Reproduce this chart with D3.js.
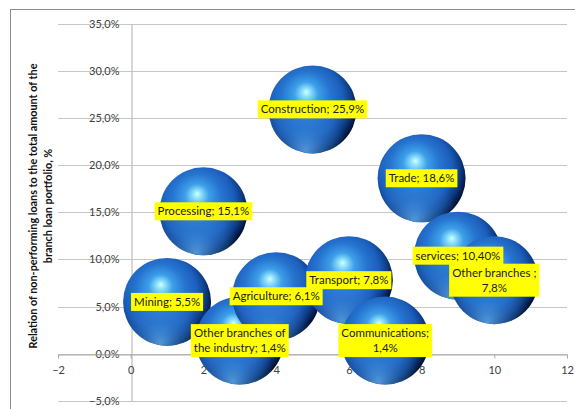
<!DOCTYPE html>
<html>
<head>
<meta charset="utf-8">
<script src="https://cdn.jsdelivr.net/npm/d3@7"></script>
<style>
  html, body { margin: 0; padding: 0; background: #fff; }
  svg { display: block; }
  text { font-family: Lato, "Open Sans", sans-serif; }
</style>
</head>
<body>
<svg id="chart" width="575" height="409"></svg>
<script>
// ---- data ----
const sectors = ["Mining", "Processing", "Other branches of the industry", "Agriculture", "Construction",
                 "Transport", "Communications", "Trade", "services", "Other branches"];
const xValues = [1, 2, 3, 4, 5, 6, 7, 8, 9, 10];
const yValues = [5.5, 15.1, 1.4, 6.1, 25.9, 7.8, 1.4, 18.6, 10.4, 7.8];
const bubbleSizes = [1, 1, 1, 1, 1, 1, 1, 1, 1, 1];
const labelTexts = ["Mining; 5,5%", "Processing; 15,1%", "Other branches of\nthe industry; 1,4%",
                    "Agriculture; 6,1%", "Construction; 25,9%", "Transport; 7,8%",
                    "Communications;\n1,4%", "Trade; 18,6%", "services; 10,40%", "Other branches ;\n7,8%"];
const xTicks = [-2, 0, 2, 4, 6, 8, 10, 12];
const yTicks = [-5, 0, 5, 10, 15, 20, 25, 30, 35];
const yTitleLines = ["Relation of non-performing loans to the total amount of the", "branch loan portfolio, %"];

// ---- setup ----
const svg = d3.select("#chart");
const x = d3.scaleLinear().domain([-2, 12]).range([58, 567]);
const y = d3.scaleLinear().domain([-5, 35]).range([401, 23.5]);
const r = d3.scaleSqrt().domain([0, d3.max(bubbleSizes)]).range([0, 44]);
const loc = d3.formatLocale({decimal: ",", thousands: " ", grouping: [3], currency: ["", ""]});
const pctFmt = v => loc.format(".1f")(v) + "%";

// chart border
svg.append("rect").attr("x", 10.5).attr("y", 9.5).attr("width", 580).attr("height", 420)
  .attr("fill", "none").attr("stroke", "#8c8c8c").attr("stroke-width", 1);

// gradients
const defs = svg.append("defs");
const g1 = defs.append("radialGradient").attr("id", "sphere")
  .attr("cx", 0.42).attr("cy", 0.42).attr("r", 0.62).attr("fx", 0.43).attr("fy", 0.3);
[[0, "#d2ffff"], [0.08, "#8be0fb"], [0.22, "#3e9fe8"], [0.45, "#2675d1"], [0.68, "#1b5eba"],
 [0.83, "#0e3d88"], [0.94, "#041b4a"], [1, "#000818"]]
  .forEach(([o, c]) => g1.append("stop").attr("offset", o).attr("stop-color", c));
const g2 = defs.append("radialGradient").attr("id", "rim")
  .attr("cx", 0.42).attr("cy", 0.97).attr("r", 0.5);
[[0, "#62b2f4", 0.8], [0.5, "#3a88dd", 0.45], [1, "#3a88dd", 0]]
  .forEach(([o, c, a]) => g2.append("stop").attr("offset", o).attr("stop-color", c).attr("stop-opacity", a));

// gridlines
svg.append("g").selectAll("line").data(yTicks).join("line")
  .attr("x1", x(-2)).attr("x2", x(12))
  .attr("y1", d => Math.round(y(d)) + 0.5).attr("y2", d => Math.round(y(d)) + 0.5)
  .attr("stroke", "#c6c6c6").attr("stroke-width", 1.2);

// y axis at x=0
const yAxis = svg.append("g").attr("transform", `translate(${Math.round(x(0)) + 0.5},0)`)
  .call(d3.axisLeft(y).tickValues(yTicks).tickFormat(pctFmt).tickSize(0).tickSizeOuter(0).tickPadding(12));
yAxis.select(".domain").attr("stroke", "#bdbdbd").attr("stroke-width", 1.2);
yAxis.selectAll("text").attr("font-size", 11).attr("fill", "#404040")
  .attr("font-family", "Lato, 'Open Sans', sans-serif");

// x axis at y=0
const xAxis = svg.append("g").attr("transform", `translate(0,${Math.round(y(0)) + 0.5})`)
  .call(d3.axisBottom(x).tickValues(xTicks).tickSize(4).tickSizeOuter(0).tickPadding(8));
xAxis.select(".domain").attr("stroke", "#a8a8a8").attr("stroke-width", 1.2);
xAxis.selectAll(".tick line").attr("stroke", "#a8a8a8");
xAxis.selectAll("text").attr("font-size", 11).attr("fill", "#404040")
  .attr("font-family", "Lato, 'Open Sans', sans-serif");

// y title
const yt = svg.append("text").attr("transform", "translate(40,206) rotate(-90)")
  .attr("text-anchor", "middle").attr("font-size", 10.8).attr("font-weight", "bold").attr("fill", "#111");
yTitleLines.forEach((t, i) => yt.append("tspan").attr("x", 0).attr("y", -7.5 + i * 15 + 4).text(t));

// bubbles
const pts = sectors.map((s, i) => ({name: s, x: xValues[i], y: yValues[i], size: bubbleSizes[i], label: labelTexts[i]}));
const bubbles = svg.append("g").selectAll("g").data(pts).join("g")
  .attr("transform", d => `translate(${x(d.x)},${y(d.y)})`);
bubbles.append("circle").attr("r", d => r(d.size)).attr("fill", "url(#sphere)");
bubbles.append("circle").attr("r", d => r(d.size)).attr("fill", "url(#rim)");

// labels
const labels = svg.append("g").selectAll("g").data(pts).join("g")
  .attr("transform", d => `translate(${x(d.x)},${y(d.y)})`);
labels.each(function(d) {
  const g = d3.select(this);
  const lines = d.label.split("\n");
  const lh = 15;
  const rect = g.append("rect").attr("fill", "#ffff00");
  const t = g.append("text").attr("text-anchor", "middle").attr("font-size", 11.5).attr("fill", "#1a1a1a");
  lines.forEach((ln, i) => t.append("tspan").attr("x", 0)
    .attr("y", (i - (lines.length - 1) / 2) * lh + 4).text(ln));
  let w = 0;
  t.selectAll("tspan").each(function() { w = Math.max(w, this.getComputedTextLength()); });
  const h = lines.length * lh + 3;
  rect.attr("x", -w / 2 - 3).attr("y", -h / 2).attr("width", w + 6).attr("height", h);
});
</script>
</body>
</html>
